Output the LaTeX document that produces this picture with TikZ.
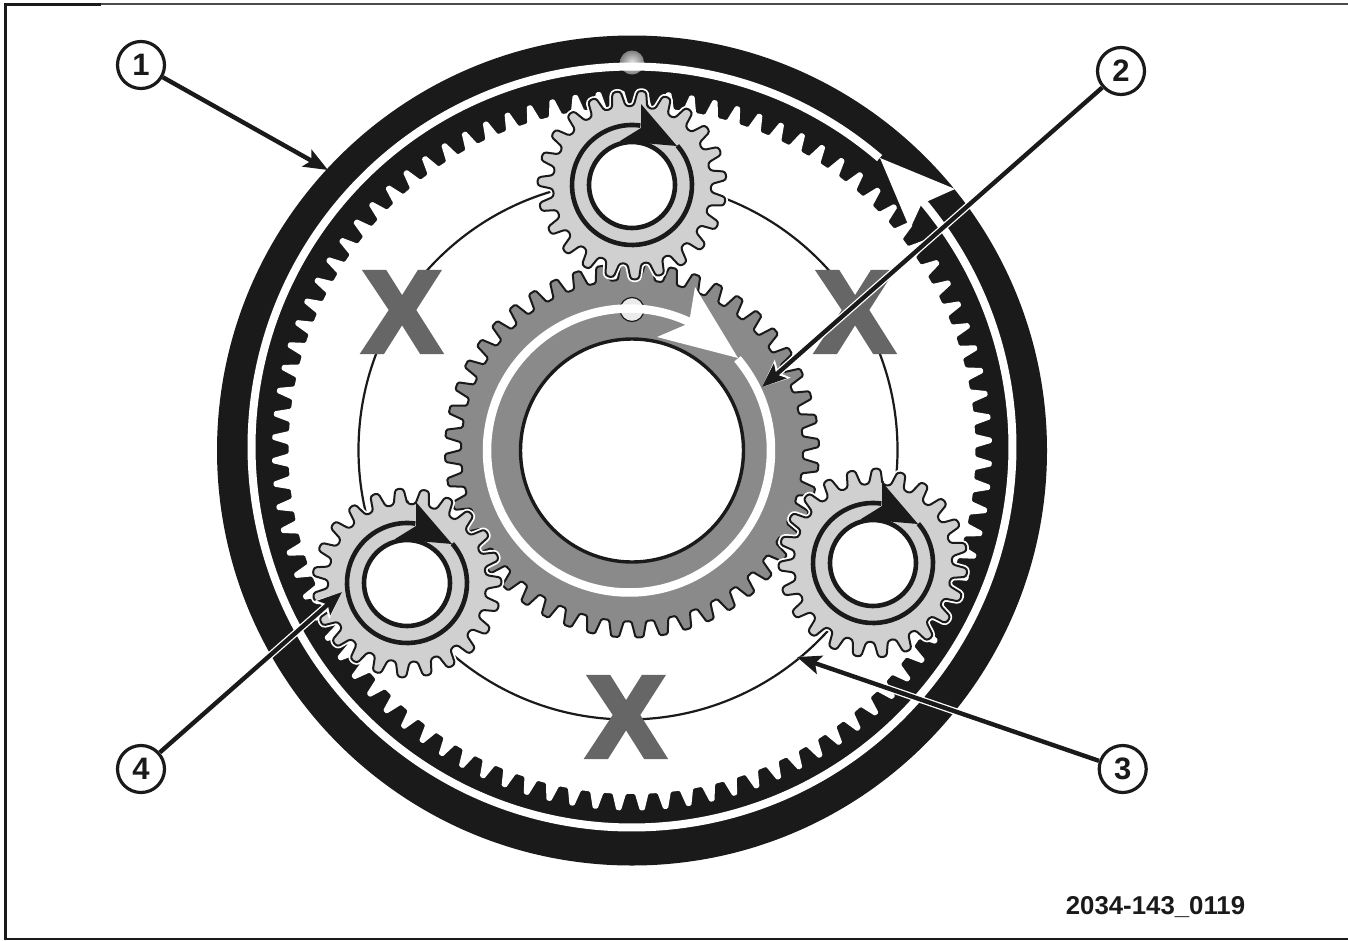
\documentclass[tikz,border=0pt]{standalone}
\usepackage{fontspec}
\setmainfont{Liberation Sans}
\newfontfamily\heavyfont[UprightFont=* Bold,FakeBold=5]{Liberation Sans}
\usetikzlibrary{arrows.meta}
\definecolor{ink}{HTML}{1A1A1A}
\definecolor{sungray}{HTML}{8A8A8A}
\definecolor{planetgray}{HTML}{D0D0D0}
\definecolor{xgray}{HTML}{666666}
\tikzset{
  callout/.style={circle,draw=ink,line width=3.2pt,minimum size=47pt,inner sep=0pt,fill=white,text=ink,font=\fontsize{31}{31}\selectfont\bfseries},
  bigx/.style={inner sep=0pt,text=xgray,font=\fontsize{114}{114}\heavyfont},
  leaderhalo/.style={white,line width=7pt,-{Stealth[length=27pt,width=23pt,inset=5pt]}},
  leader/.style={ink,line width=4.4pt,-{Stealth[length=24pt,width=19pt,inset=5pt]}},
}
% n, tip radius, root radius, phase, a, b, style
\newcommand{\gearshape}[7]{%
  \draw[#7] ({#4-#6/#1*360}:#3)
    \foreach \i in {0,...,\numexpr#1-1\relax}{
      -- ({#4+(\i-#6)/#1*360}:#3)
      -- ({#4+(\i-#5)/#1*360}:#2)
      -- ({#4+(\i+#5)/#1*360}:#2)
      -- ({#4+(\i+#6)/#1*360}:#3)
    } -- cycle;}
\newcommand{\planet}[3]{%
  \begin{scope}[shift={(#1,-#2)}]
    \gearshape{23}{94.5}{79}{#3}{0.16}{0.32}{white,line width=5.5pt,line join=round,rounded corners=3pt}
    \gearshape{23}{94.5}{79}{#3}{0.16}{0.32}{fill=planetgray,draw=ink,line width=2pt,line join=round,rounded corners=3pt}
    \draw[ink,line width=4.6pt,fill=white] (0,0) circle[radius=43];
    \draw[ink,line width=4.6pt] (41:60) arc[start angle=41,end angle=-278,radius=60];
    \fill[ink] (9,81) -- (45,39) -- (-12,44) -- (9,57) -- cycle;
  \end{scope}}
\begin{document}
\begin{tikzpicture}[x=1pt,y=1pt]
\useasboundingbox (0,0) rectangle (1348,-940);
% frame
\draw[ink,line width=2.8pt] (101,-4.5) -- (5.5,-4.5) -- (5.5,-939.5);
\draw[ink,line width=1.8pt] (5.5,-939.3) -- (1348,-939.3);
\draw[black!70,line width=2.2pt] (101,-4) -- (1348,-4);
% ring gear
\begin{scope}[shift={(632,-450.5)}]
  \fill[ink] (0,0) circle[radius=415];
  \shade[inner color=white!90!black,outer color=black!50] (0,388) circle[radius=12];
  \gearshape{96}{360}{343.5}{72.875}{0.10}{0.30}{fill=white,draw=none,rounded corners=1.2pt}
\end{scope}
\begin{scope}[shift={(632,-447)}]
  \draw[white,line width=8pt] (49.4:380.5) arc[start angle=49.4,end angle=400.2,radius=380.5];
\end{scope}
\fill[white] (880,-158) -- (955,-189) -- (921.5,-204) -- (910,-229) -- cycle;
% carrier
\draw[ink,line width=2.2pt] (628,-450) circle[radius=269.5];
% crosses
\node[bigx] (xa) at (402,-312) {X};
\node[bigx] (xb) at (855,-312) {X};
\node[bigx] (xc) at (626,-717) {X};
% sun gear
\begin{scope}[shift={(632,-450.5)}]
  \gearshape{48}{187}{171}{99.8}{0.16}{0.33}{fill=sungray,draw=ink,line width=2pt,line join=round,rounded corners=1.5pt}
  \draw[ink,line width=3.4pt,fill=white] (0,0) circle[radius=111.5];
  \draw[ink,line width=1.2pt,fill=black!8] (0,141) circle[radius=12];
\end{scope}
\begin{scope}[shift={(629,-450.5)}]
  \draw[white,line width=8.5pt] (40.2:142) arc[start angle=40.2,end angle=-294.6,radius=142];
\end{scope}
\fill[white] (695,-287) -- (738,-358) -- (657,-337) -- (685,-325) -- (690,-317) -- cycle;
% planets
\planet{632}{185}{83.9}
\planet{407}{583}{94.7}
\planet{873}{563}{88}
% callouts
\node[callout] (n1) at (141,-65) {1};
\node[callout] (n2) at (1121,-71) {2};
\node[callout] (n3) at (1122.7,-769) {3};
\node[callout] (n4) at (141,-769) {4};
\coordinate (t1) at (328,-170);
\coordinate (t2) at (762,-387);
\coordinate (t3) at (797,-657);
\coordinate (t4) at (342,-592);
\draw[leader] (n1) -- (t1);
\draw[leaderhalo] (n2) -- (t2);
\draw[leader] (n2) -- (t2);
\draw[leaderhalo] (n3) -- (t3);
\draw[leader] (n3) -- (t3);
\draw[leaderhalo] (n4) -- (t4);
\draw[leader] (n4) -- (t4);
\node[inner sep=0pt,text=ink,anchor=base,font=\fontsize{25.8}{26}\selectfont\bfseries] (code) at (1155.5,-914) {2034-143\_0119};
\end{tikzpicture}
\end{document}
